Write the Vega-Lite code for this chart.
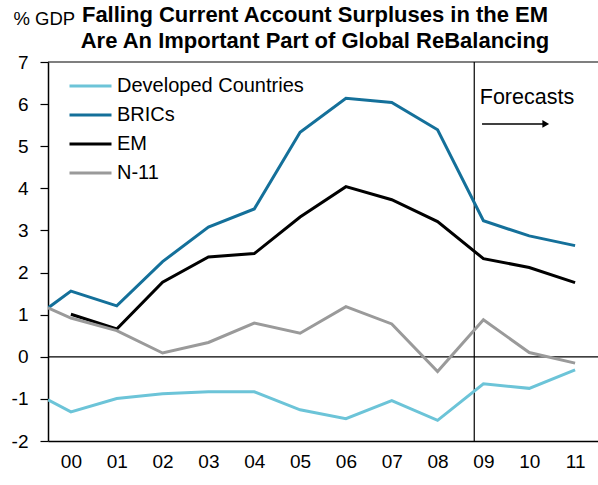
{
  "$schema": "https://vega.github.io/schema/vega-lite/v6.json",
  "width": 550,
  "height": 379,
  "autosize": "none",
  "padding": {"left": 48, "top": 62, "right": 0, "bottom": 44},
  "background": "white",
  "config": {
    "font": "Liberation Sans",
    "view": {"stroke": null},
    "axis": {"grid": false, "labelColor": "black", "labelFont": "Liberation Sans", "domainColor": "black", "tickColor": "black"}
  },
  "title": {
    "text": ["Falling Current Account Surpluses in the EM", "Are An Important Part of Global ReBalancing"],
    "font": "Liberation Sans",
    "fontSize": 22,
    "fontWeight": "bold",
    "color": "black",
    "anchor": "middle",
    "lineHeight": 26,
    "offset": 9,
    "dy": 53,
    "dx": -8
  },
  "datasets": {
    "series": [
      {"year": 1999.5, "series": "Developed Countries", "value": -1.02},
      {"year": 2000, "series": "Developed Countries", "value": -1.31},
      {"year": 2001, "series": "Developed Countries", "value": -0.99},
      {"year": 2002, "series": "Developed Countries", "value": -0.88},
      {"year": 2003, "series": "Developed Countries", "value": -0.83},
      {"year": 2004, "series": "Developed Countries", "value": -0.83},
      {"year": 2005, "series": "Developed Countries", "value": -1.26},
      {"year": 2006, "series": "Developed Countries", "value": -1.47},
      {"year": 2007, "series": "Developed Countries", "value": -1.04},
      {"year": 2008, "series": "Developed Countries", "value": -1.51},
      {"year": 2009, "series": "Developed Countries", "value": -0.64},
      {"year": 2010, "series": "Developed Countries", "value": -0.75},
      {"year": 2011, "series": "Developed Countries", "value": -0.31},
      {"year": 1999.5, "series": "BRICs", "value": 1.16},
      {"year": 2000, "series": "BRICs", "value": 1.56},
      {"year": 2001, "series": "BRICs", "value": 1.21},
      {"year": 2002, "series": "BRICs", "value": 2.26},
      {"year": 2003, "series": "BRICs", "value": 3.08},
      {"year": 2004, "series": "BRICs", "value": 3.51},
      {"year": 2005, "series": "BRICs", "value": 5.33},
      {"year": 2006, "series": "BRICs", "value": 6.14},
      {"year": 2007, "series": "BRICs", "value": 6.04},
      {"year": 2008, "series": "BRICs", "value": 5.39},
      {"year": 2009, "series": "BRICs", "value": 3.23},
      {"year": 2010, "series": "BRICs", "value": 2.87},
      {"year": 2011, "series": "BRICs", "value": 2.64},
      {"year": 2000, "series": "EM", "value": 1.01},
      {"year": 2001, "series": "EM", "value": 0.66},
      {"year": 2002, "series": "EM", "value": 1.77},
      {"year": 2003, "series": "EM", "value": 2.37},
      {"year": 2004, "series": "EM", "value": 2.45},
      {"year": 2005, "series": "EM", "value": 3.32},
      {"year": 2006, "series": "EM", "value": 4.04},
      {"year": 2007, "series": "EM", "value": 3.73},
      {"year": 2008, "series": "EM", "value": 3.21},
      {"year": 2009, "series": "EM", "value": 2.33},
      {"year": 2010, "series": "EM", "value": 2.12},
      {"year": 2011, "series": "EM", "value": 1.76},
      {"year": 1999.5, "series": "N-11", "value": 1.16},
      {"year": 2000, "series": "N-11", "value": 0.92},
      {"year": 2001, "series": "N-11", "value": 0.62},
      {"year": 2002, "series": "N-11", "value": 0.09},
      {"year": 2003, "series": "N-11", "value": 0.34},
      {"year": 2004, "series": "N-11", "value": 0.80},
      {"year": 2005, "series": "N-11", "value": 0.56},
      {"year": 2006, "series": "N-11", "value": 1.19},
      {"year": 2007, "series": "N-11", "value": 0.78},
      {"year": 2008, "series": "N-11", "value": -0.35},
      {"year": 2009, "series": "N-11", "value": 0.88},
      {"year": 2010, "series": "N-11", "value": 0.10},
      {"year": 2011, "series": "N-11", "value": -0.15}
    ],
    "hrules": [{"level": 0}, {"level": 7}],
    "forecast": [{"year": 2008.8}],
    "label": [{"year": 2008.92, "value": 6.15, "text": "Forecasts"}],
    "arrow": [{"x1": 2008.97, "x2": 2010.3, "value": 5.53, "tip": 2010.36}]
  },
  "layer": [
    {
      "data": {"name": "hrules"},
      "mark": {"type": "rule", "color": "black", "strokeWidth": 1.2},
      "encoding": {"y": {"field": "level", "type": "quantitative", "scale": {"domain": [-2, 7], "nice": false}}}
    },
    {
      "data": {"name": "forecast"},
      "mark": {"type": "rule", "color": "black", "strokeWidth": 1.2},
      "encoding": {"x": {"field": "year", "type": "quantitative"}}
    },
    {
      "data": {"name": "series"},
      "mark": {"type": "line", "strokeWidth": 3, "clip": true},
      "encoding": {
        "x": {
          "field": "year", "type": "quantitative",
          "scale": {"domain": [1999.5, 2011.5], "nice": false, "zero": false},
          "axis": {
            "title": null,
            "values": [2000, 2001, 2002, 2003, 2004, 2005, 2006, 2007, 2008, 2009, 2010, 2011],
            "format": "d",
            "labelExpr": "slice(datum.label, 2)",
            "labelFontSize": 19,
            "labelPadding": 11,
            "ticks": false,
            "domainWidth": 1.5,
            "labelFlush": false,
            "labelOverlap": false
          }
        },
        "y": {
          "field": "value", "type": "quantitative",
          "scale": {"domain": [-2, 7], "nice": false},
          "axis": {
            "title": "% GDP",
            "titleAngle": 0,
            "titleX": -35,
            "titleY": -34,
            "titleAlign": "left",
            "titleFontSize": 18.5,
            "titleFontWeight": "normal",
            "titleColor": "black",
            "values": [-2, -1, 0, 1, 2, 3, 4, 5, 6, 7],
            "labelExpr": "datum.value < 0 ? '-' + abs(datum.value) : '' + datum.value",
            "labelFontSize": 19,
            "labelPadding": 12,
            "tickSize": 8,
            "domainWidth": 1.5,
            "tickWidth": 1.2,
            "labelFlush": false
          }
        },
        "color": {
          "field": "series", "type": "nominal",
          "scale": {
            "domain": ["Developed Countries", "BRICs", "EM", "N-11"],
            "range": ["#6cc4d8", "#14709a", "#000000", "#9a9a9a"]
          },
          "legend": {
            "title": null,
            "orient": "none",
            "legendX": 20,
            "legendY": 12,
            "symbolType": "stroke",
            "symbolSize": 1764,
            "symbolStrokeWidth": 3,
            "labelFontSize": 20,
            "labelLimit": 400,
            "labelColor": "black",
            "labelOffset": 4,
            "clipHeight": 24,
            "rowPadding": 5
          }
        }
      }
    },
    {
      "data": {"name": "label"},
      "mark": {"type": "text", "align": "left", "baseline": "middle", "fontSize": 21.5, "color": "black"},
      "encoding": {
        "x": {"field": "year", "type": "quantitative"},
        "y": {"field": "value", "type": "quantitative"},
        "text": {"field": "text"}
      }
    },
    {
      "data": {"name": "arrow"},
      "mark": {"type": "rule", "color": "black", "strokeWidth": 1.5},
      "encoding": {
        "x": {"field": "x1", "type": "quantitative"},
        "x2": {"field": "x2"},
        "y": {"field": "value", "type": "quantitative"}
      }
    },
    {
      "data": {"name": "arrow"},
      "mark": {"type": "point", "shape": "triangle-right", "filled": true, "color": "black", "size": 60, "opacity": 1},
      "encoding": {
        "x": {"field": "tip", "type": "quantitative"},
        "y": {"field": "value", "type": "quantitative"}
      }
    }
  ]
}
